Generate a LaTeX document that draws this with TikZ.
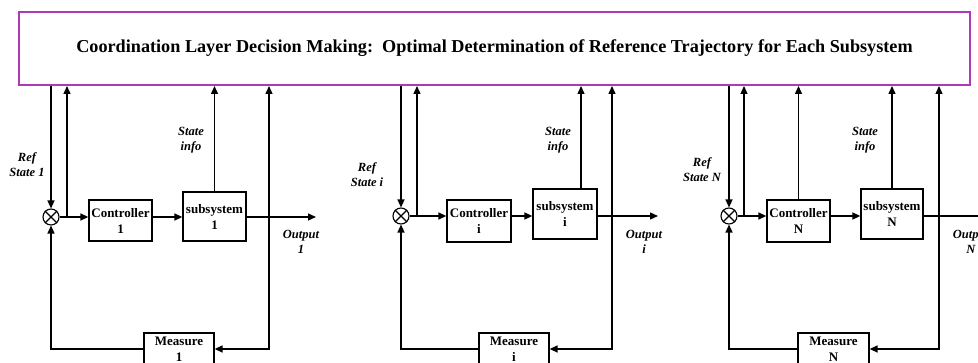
\documentclass[tikz,border=0pt]{standalone}
\usepackage{fontspec}
\setmainfont{Liberation Serif}
\usetikzlibrary{arrows.meta}
\definecolor{topc}{RGB}{175,55,185}
\begin{document}
\begin{tikzpicture}[x=1pt,y=-1pt,
  line width=1.4pt,
  arr/.style={-{Triangle[length=8pt,width=7pt]}},
  blk/.style={draw, line width=1.3pt, inner sep=0pt, align=center,
    font=\bfseries\fontsize{13}{16}\selectfont},
  lbl/.style={align=center, inner sep=0pt,
    font=\bfseries\itshape\fontsize{12.5}{15}\selectfont},
  sumj/.style={draw, circle, minimum size=16pt, inner sep=0pt, line width=1.1pt},
  xline/.style={line width=1.1pt}
]
\useasboundingbox (0,0) rectangle (978,363);
\node[draw=topc, line width=2pt, minimum width=951pt, minimum height=73pt,
  font=\bfseries\fontsize{18.2}{21}\selectfont] (top) at (494.5,48.5)
  {Coordination Layer Decision Making:\ \ Optimal Determination of Reference Trajectory for Each Subsystem};

% ---------- subsystem 1 ----------
\node[sumj] (s1) at (51,217) {};
\draw[xline] (s1.north west) -- (s1.south east) (s1.north east) -- (s1.south west);
\node[blk, minimum width=63pt, minimum height=41pt] (c1) at (120.5,220.5) {Controller\\1};
\node[blk, minimum width=63pt, minimum height=49pt] (p1) at (214.5,216.5) {subsystem\\1};
\node[blk, minimum width=70pt, minimum height=32pt] (m1) at (179,349) {Measure\\1};
\coordinate (j1) at (67,217);
\coordinate (o1) at (269,217);
\coordinate (e1) at (316,217);
\draw[arr] (top.south -| s1) -- (s1.north);
\draw (s1.east) -- (j1);
\draw[arr] (j1) -- (c1.west |- j1);
\draw[arr] (j1) -- (j1 |- top.south);
\draw[arr] (c1.east |- j1) -- (p1.west |- j1);
\draw[arr] (p1.north) -- (p1.north |- top.south);
\draw (p1.east |- o1) -- (o1);
\draw[arr] (o1) -- (e1);
\draw[arr] (o1) -- (o1 |- top.south);
\draw[arr] (o1) |- (m1.east);
\draw[arr] (m1.west) -| (s1.south);
\node[lbl] (r1) at (27,165) {Ref\\State 1};
\node[lbl] (si1) at (191,140) {State\\info};
\node[lbl] (ou1) at (301,242) {Output\\1};

% ---------- subsystem i ----------
\node[sumj] (s2) at (401,216) {};
\draw[xline] (s2.north west) -- (s2.south east) (s2.north east) -- (s2.south west);
\node[blk, minimum width=64pt, minimum height=42pt] (c2) at (479,221) {Controller\\i};
\node[blk, minimum width=64pt, minimum height=50pt] (p2) at (565,214) {subsystem\\i};
\node[blk, minimum width=70pt, minimum height=32pt] (m2) at (514,349) {Measure\\i};
\coordinate (j2) at (417,216);
\coordinate (o2) at (612,216);
\coordinate (e2) at (658,216);
\draw[arr] (top.south -| s2) -- (s2.north);
\draw (s2.east) -- (j2);
\draw[arr] (j2) -- (c2.west |- j2);
\draw[arr] (j2) -- (j2 |- top.south);
\draw[arr] (c2.east |- j2) -- (p2.west |- j2);
\draw[arr] ([xshift=16pt]p2.north) -- ([xshift=16pt]p2.north |- top.south);
\draw (p2.east |- o2) -- (o2);
\draw[arr] (o2) -- (e2);
\draw[arr] (o2) -- (o2 |- top.south);
\draw[arr] (o2) |- (m2.east);
\draw[arr] (m2.west) -| (s2.south);
\node[lbl] (r2) at (367,175) {Ref\\State i};
\node[lbl] (si2) at (558,140) {State\\info};
\node[lbl] (ou2) at (644,242) {Output\\i};

% ---------- subsystem N ----------
\node[sumj] (s3) at (729,216) {};
\draw[xline] (s3.north west) -- (s3.south east) (s3.north east) -- (s3.south west);
\node[blk, minimum width=63pt, minimum height=42pt] (c3) at (798.5,221) {Controller\\N};
\node[blk, minimum width=62pt, minimum height=50pt] (p3) at (892,214) {subsystem\\N};
\node[blk, minimum width=71pt, minimum height=32pt] (m3) at (833.5,349) {Measure\\N};
\coordinate (j3) at (744,216);
\coordinate (o3) at (939,216);
\coordinate (e3) at (992,216);
\draw[arr] (top.south -| s3) -- (s3.north);
\draw (s3.east) -- (j3);
\draw[arr] (j3) -- (c3.west |- j3);
\draw[arr] (j3) -- (j3 |- top.south);
\draw[arr] (c3.east |- j3) -- (p3.west |- j3);
\draw[arr] (c3.north) -- (c3.north |- top.south);
\draw[arr] (p3.north) -- (p3.north |- top.south);
\draw (p3.east |- o3) -- (o3);
\draw[arr] (o3) -- (e3);
\draw[arr] (o3) -- (o3 |- top.south);
\draw[arr] (o3) |- (m3.east);
\draw[arr] (m3.west) -| (s3.south);
\node[lbl] (r3) at (702,170) {Ref\\State N};
\node[lbl] (si3) at (865,140) {State\\info};
\node[lbl] (ou3) at (971,242) {Output\\N};
\end{tikzpicture}
\end{document}
